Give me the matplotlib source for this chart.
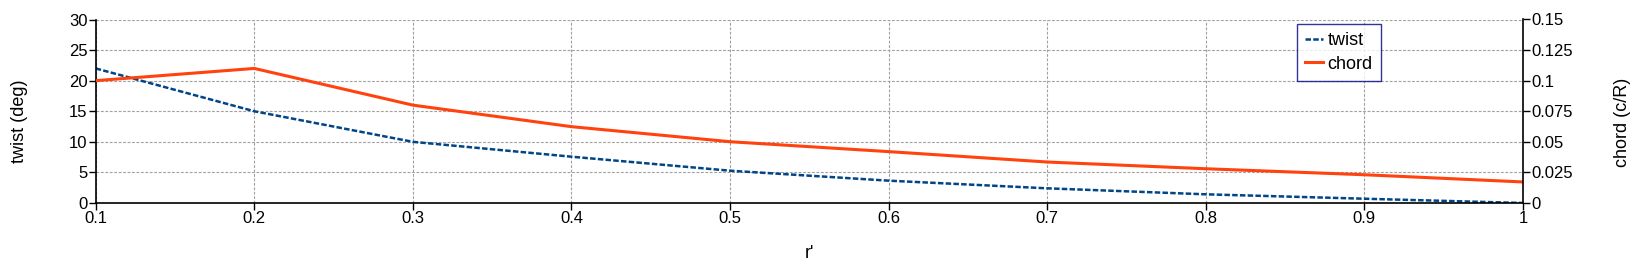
import numpy as np
import matplotlib as mpl
mpl.use('Agg')
import matplotlib.pyplot as plt
from matplotlib.ticker import FixedLocator, FixedFormatter

# values
r_prime = [0.1, 0.2, 0.3, 0.4, 0.5, 0.6, 0.7, 0.8, 0.9, 1.0]
twist = [22.0, 15.0, 10.0, 7.57, 5.28, 3.65, 2.4, 1.42, 0.7, 0.0]
chord = [0.1, 0.11, 0.08, 0.0624, 0.0501, 0.042, 0.0335, 0.028, 0.0231, 0.0172]

x_ticks = [0.1, 0.2, 0.3, 0.4, 0.5, 0.6, 0.7, 0.8, 0.9, 1.0]
x_labels = ['0.1', '0.2', '0.3', '0.4', '0.5', '0.6', '0.7', '0.8', '0.9', '1']
twist_ticks = [0, 5, 10, 15, 20, 25, 30]
chord_ticks = [0, 0.025, 0.05, 0.075, 0.1, 0.125, 0.15]
chord_labels = ['0', '0.025', '0.05', '0.075', '0.1', '0.125', '0.15']

plt.rcParams['font.family'] = ['Liberation Sans', 'DejaVu Sans']

W, H = 1646, 266
fig = plt.figure(figsize=(W / 100, H / 100), dpi=100)
fig.patch.set_color('white')

# axes box in pixels: left 95.7, right 1523, top 19.5, bottom 203
ax = fig.add_axes([95.7 / W, 1 - 203 / H, (1523 - 95.7) / W, (203 - 19.5) / H])
ax2 = ax.twinx()

l1, = ax.plot(r_prime, twist, color='#004586', lw=1.8, dashes=(2.2, 0.9), label='twist')
l2, = ax2.plot(r_prime, chord, color='#ff420e', lw=2.2, label='chord')

ax.set_xlim(0.1, 1.0)
ax.set_ylim(0, 30)
ax2.set_ylim(0, 0.15)

ax.xaxis.set_major_locator(FixedLocator(x_ticks))
ax.xaxis.set_major_formatter(FixedFormatter(x_labels))
ax.yaxis.set_major_locator(FixedLocator(twist_ticks))
ax2.yaxis.set_major_locator(FixedLocator(chord_ticks))
ax2.yaxis.set_major_formatter(FixedFormatter(chord_labels))

ax.grid(True, color='#a0a0a0', ls=(0, (2.5, 1.5)), lw=0.8)
ax.set_axisbelow(True)

for a in (ax, ax2):
    a.spines['top'].set_visible(False)
    for s in ('left', 'bottom', 'right'):
        a.spines[s].set_color('black')
        a.spines[s].set_linewidth(1.2)
    a.tick_params(direction='out', length=5, width=1, labelsize=12, pad=1)
ax2.spines['left'].set_visible(False)
ax2.spines['bottom'].set_visible(False)
ax.spines['right'].set_visible(False)

ax.set_xlabel("r'", fontsize=13, va='center')
ax.xaxis.set_label_coords(0.5, -0.275)
ax.set_ylabel('twist (deg)', fontsize=13, va='center')
ax.yaxis.set_label_coords((20 - 95.7) / 1427.3, 0.443)
ax2.set_ylabel('chord (c/R)', fontsize=13, va='center')
ax2.yaxis.set_label_coords((1623 - 95.7) / 1427.3, 0.44)

leg = ax2.legend([l1, l2], ['twist', 'chord'], loc='upper left',
                 bbox_to_anchor=(0.8415, 0.975), fontsize=13, frameon=True,
                 fancybox=False, edgecolor='#000080', handlelength=1.0,
                 handletextpad=0.25, borderpad=0.45, labelspacing=0.35,
                 borderaxespad=0)
leg.get_frame().set_linewidth(1.0)

fig.savefig('out.png', dpi=100)
